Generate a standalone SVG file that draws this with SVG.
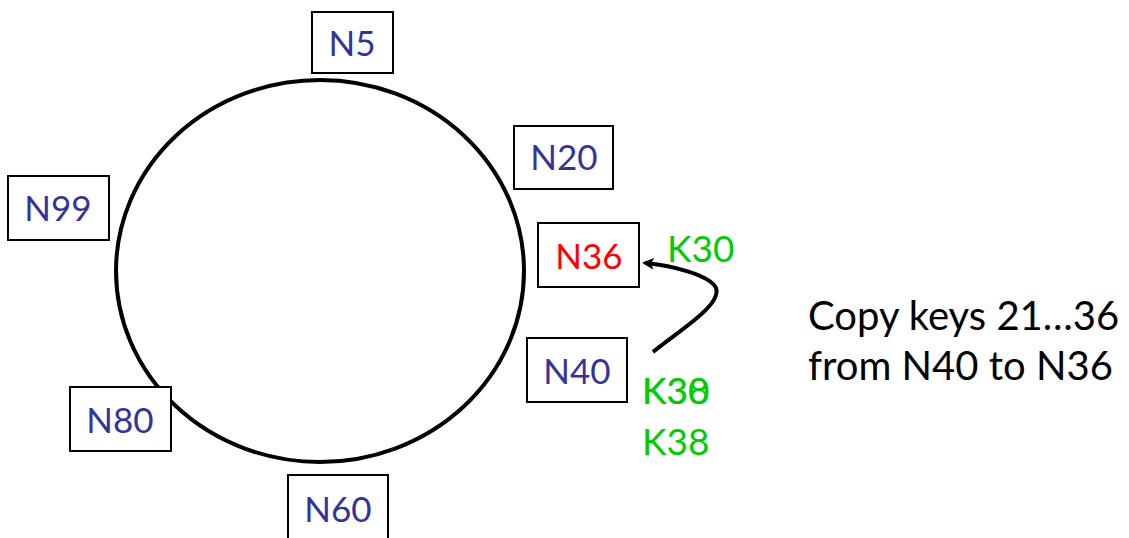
<svg xmlns="http://www.w3.org/2000/svg" width="1129" height="538" viewBox="0 0 1129 538">
<defs>
<style>
.box{fill:#fff;stroke:#000;stroke-width:2}
.lbl{font-family:Lato,"Open Sans",sans-serif;font-size:35px;fill:#333399;text-anchor:middle}
.key{font-family:Lato,"Open Sans",sans-serif;font-size:37px;fill:#00cc00}
.note{font-family:Lato,"Open Sans",sans-serif;font-size:40px;fill:#000}
</style>
<marker id="ah" markerWidth="12" markerHeight="12" refX="9" refY="6" orient="auto" markerUnits="userSpaceOnUse">
<path d="M0,0 L12,6 L0,12 L3,6 Z" fill="#000"/>
</marker>
</defs>
<ellipse cx="320" cy="271" rx="204" ry="191" fill="none" stroke="#000" stroke-width="4"/>
<g id="n5"><rect class="box" x="312" y="12" width="81" height="61"/><text class="lbl" x="352" y="56">N5</text></g>
<g id="n20"><rect class="box" x="514" y="126" width="99" height="63"/><text class="lbl" x="564" y="170">N20</text></g>
<g id="n99"><rect class="box" x="8" y="176" width="101" height="64"/><text class="lbl" x="58" y="221">N99</text></g>
<g id="n36"><rect class="box" x="538" y="223" width="101" height="64"/><text class="lbl" x="589" y="269" style="fill:#ff0000">N36</text></g>
<g id="n40"><rect class="box" x="527" y="338" width="100" height="64"/><text class="lbl" x="577" y="384">N40</text></g>
<g id="n80"><rect class="box" x="70" y="387" width="101" height="64"/><text class="lbl" x="120" y="433">N80</text></g>
<g id="n60"><rect class="box" x="288" y="475" width="100" height="70"/><text class="lbl" x="338" y="522">N60</text></g>
<g id="connectors">
<path d="M653,352 C680,330 722,305 716,288 C710,275 670,265 645,263" fill="none" stroke="#000" stroke-width="4" marker-end="url(#ah)"/>
</g>
<text class="key" x="667" y="262">K30</text>
<text class="key" x="642" y="404">K30</text>
<text class="key" x="642" y="404">K38</text>
<text class="key" x="642" y="455">K38</text>
<text class="note" x="808" y="330">Copy keys 21…36</text>
<text class="note" x="808" y="380">from N40 to N36</text>
</svg>
